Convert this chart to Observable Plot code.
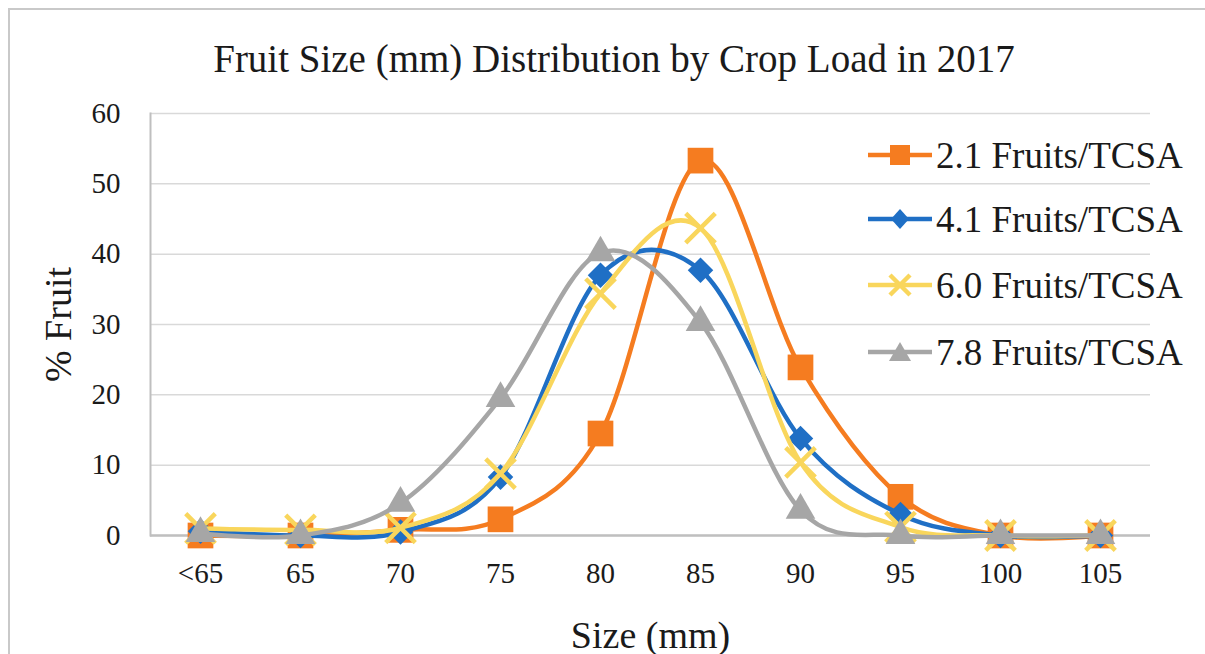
<!DOCTYPE html>
<html>
<head>
<meta charset="utf-8">
<script src="https://cdn.jsdelivr.net/npm/d3@7"></script>
<script src="https://cdn.jsdelivr.net/npm/@observablehq/plot@0.6"></script>
<style>
  body { margin: 0; background: #fff; }
  #wrap { position: relative; width: 1205px; height: 654px; overflow: hidden; font-family: "Liberation Serif", "DejaVu Serif", serif; color: #1a1a1a; }
  #border { position: absolute; left: 8px; top: 8px; width: 1300px; height: 800px; border-left: 2px solid #c9c9c9; border-top: 2px solid #c9c9c9; }
  #title { position: absolute; left: 0; top: 0; width: 1228px; height: 90px; line-height: 118px; text-align: center; font-size: 39px; }
  #chart { position: absolute; left: 0; top: 90px; }
  #legend { position: absolute; left: 866px; top: 0; }
  .item { position: absolute; left: 0; height: 40px; display: flex; align-items: center; white-space: nowrap; font-size: 37px; }
  .item svg { margin-right: 2px; }
</style>
</head>
<body>
<div id="wrap">
  <div id="border"></div>
  <div id="title">Fruit Size (mm) Distribution by Crop Load in 2017</div>
  <div id="chart"></div>
  <div id="legend"></div>
</div>
<script>
const sizes = ["<65", "65", "70", "75", "80", "85", "90", "95", "100", "105"];
const load21 = [0, 0, 0.8, 2.3, 14.5, 53.3, 23.9, 5.5, 0, 0];
const load41 = [0.6, 0, 0.5, 8.3, 37, 37.7, 13.8, 3, 0, 0];
const load60 = [1.0, 0.8, 1.1, 8.8, 34.4, 43.7, 10.4, 1.2, 0, 0];
const load78 = [0.3, 0, 4.6, 19.5, 40.2, 30.3, 3.6, 0, 0, 0];
const seriesNames = ["2.1 Fruits/TCSA", "4.1 Fruits/TCSA", "6.0 Fruits/TCSA", "7.8 Fruits/TCSA"];
const seriesColors = ["#F57C20", "#1F6FC5", "#F9D65C", "#A6A6A6"];
const yTicks = [0, 10, 20, 30, 40, 50, 60];

const allValues = [load21, load41, load60, load78];
const series = allValues.map((vals, i) => ({
  name: seriesNames[i],
  color: seriesColors[i],
  data: sizes.map((s, j) => ({ size: s, value: vals[j] }))
}));

const symbolSpec = [
  { symbol: "square", r: 14.5, fill: true },
  { symbol: "diamond2", r: 11.5, fill: true },
  { symbol: "times", r: 13.5, fill: false },
  { symbol: "triangle", r: 11, fill: true }
];

const marks = [
  Plot.gridY(yTicks, { stroke: "#d9d9d9", strokeOpacity: 1, strokeWidth: 1.5 }),
  Plot.ruleY([0], { stroke: "#bfbfbf", strokeWidth: 2.5 }),
  Plot.axisX({ tickSize: 0, tickPadding: 27, fontSize: 29, label: "Size (mm)", labelAnchor: "center", labelOffset: 112, labelArrow: "none" }),
  Plot.axisY(yTicks, { tickSize: 0, tickPadding: 30, fontSize: 29, label: "% Fruit", labelAnchor: "center", labelOffset: 106, labelArrow: "none" })
];
try { marks.push(Plot.frame({ anchor: "left", stroke: "#bfbfbf", strokeWidth: 2 })); } catch (e) {}

series.forEach((s, i) => {
  const sp = symbolSpec[i];
  marks.push(Plot.line(s.data, { x: "size", y: "value", stroke: s.color, strokeWidth: 4.5, curve: "cardinal" }));
  marks.push(Plot.dot(s.data, sp.fill
    ? { x: "size", y: "value", symbol: () => sp.symbol, r: sp.r, fill: s.color, stroke: "none" }
    : { x: "size", y: "value", symbol: () => sp.symbol, r: sp.r, fill: "none", stroke: s.color, strokeWidth: 4.5 }));
});

const plot = Plot.plot({
  width: 1205,
  height: 564,
  marginTop: 23,
  marginBottom: 119,
  marginLeft: 150,
  marginRight: 55,
  style: { fontFamily: "Liberation Serif, DejaVu Serif, serif", fontSize: "29px", color: "#1a1a1a", background: "transparent" },
  x: { type: "point", domain: sizes, padding: 0.5 },
  y: { domain: [0, 60] },
  symbol: { type: "identity" },
  marks
});
plot.querySelectorAll("g[aria-label='x-axis label'] text, g[aria-label='y-axis label'] text").forEach(t => t.setAttribute("font-size", "38"));
document.getElementById("chart").appendChild(plot);

// legend
const legend = document.getElementById("legend");
const tops = [135, 199, 265, 332];
const swatch = [
  c => `<rect x="24" y="10" width="20" height="20" fill="${c}"/>`,
  c => `<path d="M34 10 L43 20 L34 30 L25 20 Z" fill="${c}"/>`,
  c => `<path d="M24 10 L44 30 M44 10 L24 30" stroke="${c}" stroke-width="4.5"/>`,
  c => `<path d="M34 10 L45 29 L23 29 Z" fill="${c}"/>`
];
series.forEach((s, i) => {
  const d = document.createElement("div");
  d.className = "item";
  d.style.top = tops[i] + "px";
  d.innerHTML = `<svg width="68" height="40"><line x1="2" y1="20" x2="66" y2="20" stroke="${s.color}" stroke-width="4.5"/>${swatch[i](s.color)}</svg><span>${s.name}</span>`;
  legend.appendChild(d);
});
</script>
</body>
</html>
